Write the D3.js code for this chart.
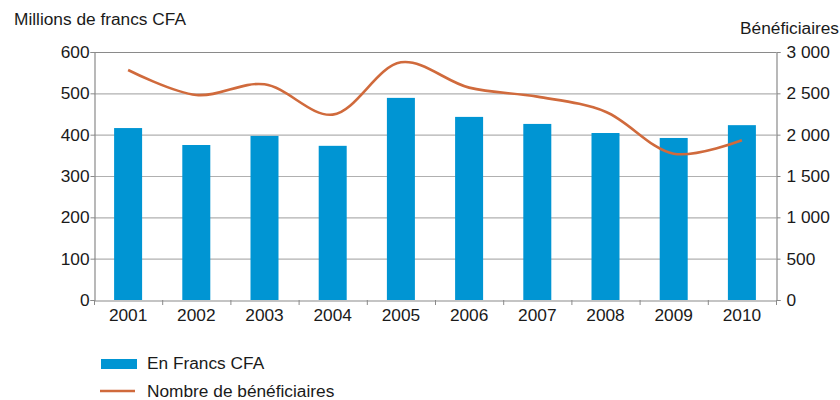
<!DOCTYPE html>
<html><head><meta charset="utf-8">
<script src="https://cdn.jsdelivr.net/npm/d3@7"></script>
<style>body{margin:0;background:#fff}svg{font-family:"Liberation Sans",Arial,sans-serif}</style>
</head><body><svg id="c" width="840" height="400"></svg>
<script>
const years = ["2001","2002","2003","2004","2005","2006","2007","2008","2009","2010"];
const francs = [416, 375, 397, 373, 489, 443, 426, 404, 392, 423];
const beneficiaires = [2782, 2480, 2609, 2242, 2875, 2569, 2460, 2278, 1770, 1932];
const leftTicks = [0,100,200,300,400,500,600];
const rightTicks = [0,500,1000,1500,2000,2500,3000];
const rightTickLabels = ["0","500","1 000","1 500","2 000","2 500","3 000"];

const svg = d3.select("#c");
const L = 94, R = 776, T = 52, B = 300;
const x = d3.scaleBand().domain(years).range([L, R]).paddingInner(0).paddingOuter(0);
const yL = d3.scaleLinear().domain([0,600]).range([B,T]);
const yR = d3.scaleLinear().domain([0,3000]).range([B,T]);
const fs = 17.3;
const ff = "Liberation Sans, Arial, sans-serif";

// gridlines
svg.append("g").selectAll("line").data(leftTicks.filter(d=>d>0)).join("line")
  .attr("x1",L).attr("x2",R).attr("y1",d=>yL(d)+0.5).attr("y2",d=>yL(d)+0.5)
  .attr("stroke",d=>d===600?"#8a8a8a":"#b0b0b0").attr("stroke-width",1.2);

// bars
const bw = 28;
svg.append("g").selectAll("rect").data(years).join("rect")
  .attr("x",d=>x(d)+x.bandwidth()/2-bw/2).attr("width",bw)
  .attr("y",(d,i)=>yL(francs[i])).attr("height",(d,i)=>B-yL(francs[i]))
  .attr("fill","#0095d3");

// left axis
const gl = svg.append("g").attr("transform",`translate(${L+0.5},0)`)
  .call(d3.axisLeft(yL).tickValues(leftTicks).tickSize(4).tickPadding(1));
gl.select(".domain").attr("stroke","#8a8a8a").attr("stroke-width",1.2);
gl.selectAll(".tick line").attr("stroke","#8a8a8a");
gl.selectAll("text").attr("font-size",fs).attr("fill","#1a1a1a").attr("font-family",ff);

// right axis
const gr = svg.append("g").attr("transform",`translate(${R+0.5},0)`)
  .call(d3.axisRight(yR).tickValues(rightTicks).tickSize(4).tickPadding(6)
    .tickFormat((d,i)=>rightTickLabels[i]));
gr.select(".domain").attr("stroke","#8a8a8a").attr("stroke-width",1.2);
gr.selectAll(".tick line").attr("stroke","#8a8a8a");
gr.selectAll("text").attr("font-size",fs).attr("fill","#1a1a1a").attr("font-family",ff);

// bottom axis
const gb = svg.append("g").attr("transform",`translate(0,${B+0.5})`)
  .call(d3.axisBottom(x).tickSize(0).tickPadding(8));
gb.select(".domain").attr("stroke","#8a8a8a").attr("stroke-width",1.2);
gb.selectAll("text").attr("font-size",fs).attr("fill","#1a1a1a").attr("font-family",ff);
const bounds = years.map(d=>x(d)).concat([R]);
svg.append("g").selectAll("line").data(bounds).join("line")
  .attr("x1",d=>d+0.5).attr("x2",d=>d+0.5).attr("y1",B).attr("y2",B+5)
  .attr("stroke","#8a8a8a");

// line
const line = d3.line()
  .x((d,i)=>x(years[i])+x.bandwidth()/2)
  .y(d=>yR(d))
  .curve(d3.curveCatmullRom.alpha(0.5));
svg.append("path").datum(beneficiaires).attr("d",line)
  .attr("fill","none").attr("stroke","#d06a3c").attr("stroke-width",2.6);

// titles
svg.append("text").attr("x",14).attr("y",25).attr("font-size",fs).attr("fill","#1a1a1a").text("Millions de francs CFA");
svg.append("text").attr("x",839).attr("y",34).attr("text-anchor","end").attr("font-size",fs).attr("fill","#1a1a1a").text("Bénéficiaires");

// legend
const leg = svg.append("g");
leg.append("rect").attr("x",101).attr("y",359).attr("width",36).attr("height",10).attr("fill","#0095d3");
leg.append("text").attr("x",147).attr("y",369).attr("font-size",fs).attr("fill","#1a1a1a").text("En Francs CFA");
leg.append("line").attr("x1",100).attr("x2",135).attr("y1",391).attr("y2",391).attr("stroke","#d06a3c").attr("stroke-width",2.6);
leg.append("text").attr("x",147).attr("y",397).attr("font-size",fs).attr("fill","#1a1a1a").text("Nombre de bénéficiaires");
</script></body></html>
